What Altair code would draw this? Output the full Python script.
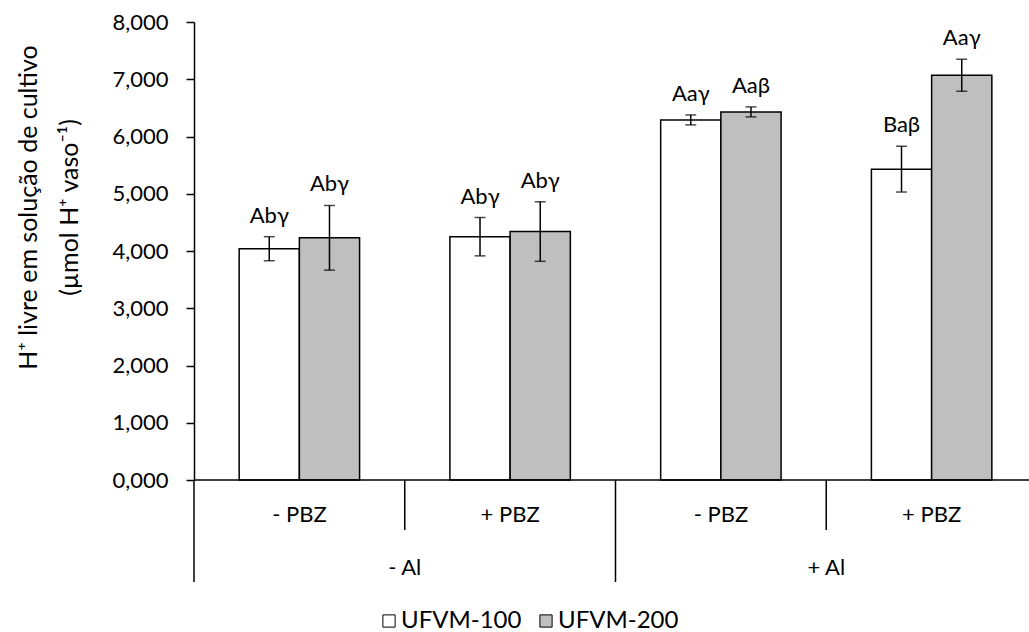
import altair as alt
import pandas as pd

# Treatment levels (aluminium x paclobutrazol) in plotting order
al_levels = ["- Al", "- Al", "+ Al", "+ Al"]
pbz_levels = ["- PBZ", "+ PBZ", "- PBZ", "+ PBZ"]
cultivars = ["UFVM-100", "UFVM-200"]

# Free H+ in nutrient solution (µmol H+ per pot), mean and standard error
ufvm100_mean = [4.04, 4.25, 6.29, 5.43]
ufvm100_err = [0.21, 0.335, 0.087, 0.40]
ufvm200_mean = [4.23, 4.34, 6.43, 7.07]
ufvm200_err = [0.565, 0.52, 0.087, 0.28]

# Mean-comparison letters
ufvm100_letters = ["Abγ", "Abγ", "Aaγ", "Baβ"]
ufvm200_letters = ["Abγ", "Abγ", "Aaβ", "Aaγ"]

FONT = "Lato"
FS = 22
group_keys = [f"{a}|{p}" for a, p in zip(al_levels, pbz_levels)]

rows = []
for i, key in enumerate(group_keys):
    for cv, means, errs, lets in [
        ("UFVM-100", ufvm100_mean, ufvm100_err, ufvm100_letters),
        ("UFVM-200", ufvm200_mean, ufvm200_err, ufvm200_letters),
    ]:
        rows.append({
            "key": key, "cultivar": cv, "mean": means[i],
            "low": means[i] - errs[i], "high": means[i] + errs[i],
            "letters": lets[i],
        })
df = pd.DataFrame(rows)


def x_band(band_position=None):
    kw = {} if band_position is None else {"bandPosition": band_position}
    return alt.X("key:N", sort=group_keys, axis=None,
                 scale=alt.Scale(domain=group_keys, range=[0, 843],
                                 paddingInner=0, paddingOuter=0), **kw)


x_enc = x_band()
xoff = alt.XOffset("cultivar:N", sort=cultivars,
                   scale=alt.Scale(domain=cultivars, paddingOuter=0.75, paddingInner=0))
y_scale = alt.Scale(domain=[0, 8], nice=False)

base = alt.Chart(df)

bars = base.mark_bar(stroke="black", strokeWidth=1.5).encode(
    x=x_enc,
    xOffset=xoff,
    y=alt.Y("mean:Q", scale=y_scale,
            axis=alt.Axis(
                values=[0, 1, 2, 3, 4, 5, 6, 7, 8],
                labelExpr="replace(format(datum.value, '.3f'), '.', ',')",
                title=["H⁺ livre em solução de cultivo", "(µmol H⁺ vaso⁻¹)"],
                titleAngle=270, titleAlign="center", titleBaseline="middle",
                titleX=-166, titleY=185, titleFont=FONT, titleFontSize=25,
                titleFontWeight="normal", titleColor="black", titleLineHeight=41,
                labelFont=FONT, labelFontSize=FS, labelColor="black",
                labelPadding=18, tickSize=8, tickWidth=1.5, tickColor="black",
                domainColor="black", domainWidth=1.5, grid=False,
            )),
    fill=alt.Fill("cultivar:N", sort=cultivars,
                  scale=alt.Scale(domain=cultivars, range=["white", "#BFBFBF"]),
                  legend=alt.Legend(
                      orient="none", legendX=183, legendY=587,
                      direction="horizontal", title=None,
                      symbolType="square", symbolSize=150,
                      symbolStrokeColor="black", symbolStrokeWidth=1,
                      labelFont=FONT, labelFontSize=24, labelColor="black",
                      labelOffset=0, columnPadding=12,
                  )),
)

err_rule = base.mark_rule(color="black", strokeWidth=1.5).encode(
    x=x_enc, xOffset=xoff,
    y=alt.Y("low:Q", scale=y_scale), y2="high:Q",
)
cap_low = base.mark_tick(orient="horizontal", size=11, thickness=1.5, color="black").encode(
    x=x_enc, xOffset=xoff, y=alt.Y("low:Q", scale=y_scale),
)
cap_high = base.mark_tick(orient="horizontal", size=11, thickness=1.5, color="black").encode(
    x=x_enc, xOffset=xoff, y=alt.Y("high:Q", scale=y_scale),
)
letters = base.mark_text(baseline="alphabetic", dy=-14, font=FONT, fontSize=FS,
                         color="black").encode(
    x=x_enc, xOffset=xoff, y=alt.Y("high:Q", scale=y_scale), text="letters:N",
)

# x baseline
baseline = alt.Chart(pd.DataFrame({"v": [0]})).mark_rule(
    color="black", strokeWidth=1.5).encode(y=alt.Y("v:Q", scale=y_scale))

# Two-level category axis: PBZ level labels and separators
pbz_df = pd.DataFrame({"key": group_keys, "pbz": pbz_levels, "al": al_levels})
pbz_labels = alt.Chart(pbz_df).mark_text(font=FONT, fontSize=FS, color="black",
                                         baseline="middle").encode(
    x=x_enc, y=alt.value(493), text="pbz:N",
)
short_sep = alt.Chart(pbz_df[pbz_df["pbz"] == "+ PBZ"]).mark_rule(
    color="black", strokeWidth=1.5).encode(
    x=x_band(0), y=alt.value(458), y2=alt.value(508),
)
long_sep = alt.Chart(pbz_df[pbz_df["pbz"] == "- PBZ"]).mark_rule(
    color="black", strokeWidth=1.5).encode(
    x=x_band(0), y=alt.value(458), y2=alt.value(560),
)
# Al labels sit on the boundary between the two PBZ bands of each Al block
al_labels = alt.Chart(pbz_df[pbz_df["pbz"] == "+ PBZ"]).mark_text(
    font=FONT, fontSize=FS, color="black", baseline="middle").encode(
    x=x_band(0), y=alt.value(546), text="al:N",
)

chart = alt.layer(
    bars, err_rule, cap_low, cap_high, letters, baseline,
    pbz_labels, short_sep, long_sep, al_labels,
).properties(
    width=835, height=458,
    padding={"left": 194, "top": 22, "right": 0, "bottom": 152},
    autosize=alt.AutoSizeParams(type="none"),
    background="white",
).configure_view(stroke=None)

chart.save("out.html", embed_options={"renderer": "svg", "actions": False})
